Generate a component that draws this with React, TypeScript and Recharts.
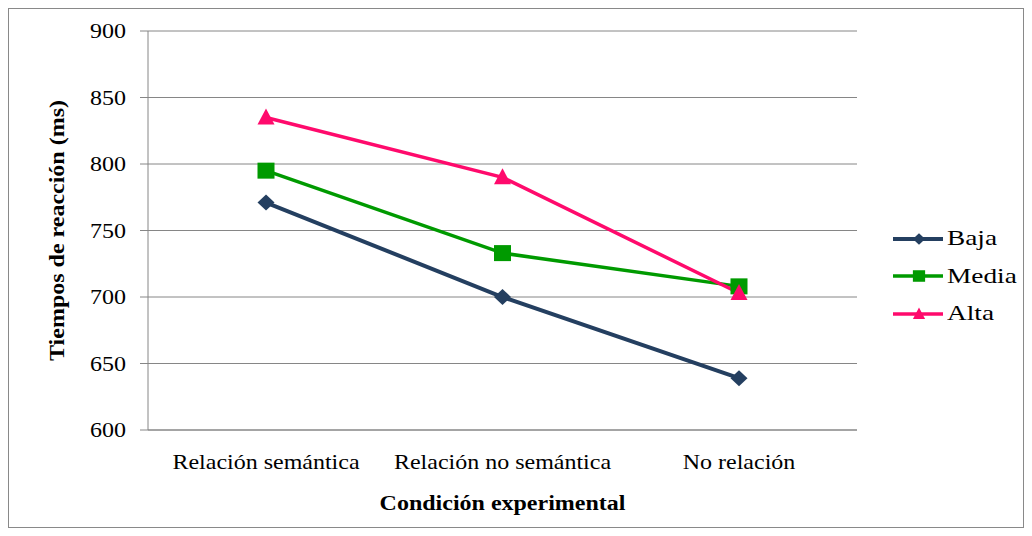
import { LineChart, Line, XAxis, YAxis, CartesianGrid, Legend } from 'recharts'

const categories = ['Relación semántica', 'Relación no semántica', 'No relación']
const baja = [771, 700, 639]
const media = [795, 733, 708]
const alta = [835, 790, 703]
const yTicks = [600, 650, 700, 750, 800, 850, 900]
const boundaryTicks = [0, 1, 2, 3]

const FONT = "'Liberation Serif', 'Times New Roman', serif"
const SX = 1.2
const GRID = '#868686'

type Shape = 'diamond' | 'square' | 'triangle'

const series: { key: string; name: string; color: string; shape: Shape; width: number }[] = [
  { key: 'baja', name: 'Baja', color: '#243f60', shape: 'diamond', width: 4 },
  { key: 'media', name: 'Media', color: '#009a00', shape: 'square', width: 3.5 },
  { key: 'alta', name: 'Alta', color: '#ff0a6c', shape: 'triangle', width: 3.5 },
]

const data = categories.map((cat, i) => ({
  cat,
  baja: baja[i],
  media: media[i],
  alta: alta[i],
}))

function Marker({ cx, cy, shape, color, k = 1 }: { cx: number; cy: number; shape: Shape; color: string; k?: number }) {
  if (shape === 'diamond') {
    return <polygon points={`${cx},${cy - 8 * k} ${cx + 8.5 * k},${cy} ${cx},${cy + 8 * k} ${cx - 8.5 * k},${cy}`} fill={color} />
  }
  if (shape === 'square') {
    return <rect x={cx - 8.5 * k} y={cy - 8 * k} width={17 * k} height={16 * k} fill={color} />
  }
  return <polygon points={`${cx},${cy - 9 * k} ${cx + 8.5 * k},${cy + 7 * k} ${cx - 8.5 * k},${cy + 7 * k}`} fill={color} />
}

function YTick({ x, y, payload }: any) {
  return (
    <g transform={`translate(${x},${y}) scale(${SX},1)`}>
      <text x={0} y={0} dy="0.35em" textAnchor="end" fontFamily={FONT} fontSize={20} fill="#000">
        {payload.value}
      </text>
    </g>
  )
}

function XTick({ x, y, payload }: any) {
  return (
    <g transform={`translate(${x},${y}) scale(${SX},1)`}>
      <text x={0} y={0} dy="0.35em" textAnchor="middle" fontFamily={FONT} fontSize={20} fill="#000">
        {payload.value}
      </text>
    </g>
  )
}

function YTitle({ viewBox }: any) {
  const cx = viewBox.x + 48
  const cy = viewBox.y + viewBox.height / 2
  return (
    <g transform={`translate(${cx},${cy}) rotate(-90) scale(${SX},1)`}>
      <text x={0} y={0} dy="0.35em" textAnchor="middle" fontFamily={FONT} fontSize={20} fontWeight="bold" fill="#000">
        Tiempos de reacción (ms)
      </text>
    </g>
  )
}

function XTitle({ viewBox }: any) {
  const cx = viewBox.x + viewBox.width / 2
  const cy = viewBox.y + 73
  return (
    <g transform={`translate(${cx},${cy}) scale(${SX},1)`}>
      <text x={0} y={0} dy="0.35em" textAnchor="middle" fontFamily={FONT} fontSize={20} fontWeight="bold" fill="#000">
        Condición experimental
      </text>
    </g>
  )
}

function LegendContent() {
  return (
    <div style={{ display: 'flex', flexDirection: 'column' }}>
      {series.map(s => (
        <div key={s.key} style={{ display: 'flex', alignItems: 'center', height: 37.5 }}>
          <svg width={52} height={20} style={{ display: 'block' }}>
            <line x1={1} y1={10} x2={51} y2={10} stroke={s.color} strokeWidth={s.width} />
            <Marker cx={27} cy={10} shape={s.shape} color={s.color} k={0.72} />
          </svg>
          <span style={{
            fontFamily: FONT, fontSize: 21, color: '#000', marginLeft: 3,
            display: 'inline-block', transform: 'scaleX(1.3)', transformOrigin: 'left center',
          }}>{s.name}</span>
        </div>
      ))}
    </div>
  )
}

export default function App() {
  return (
    <div style={{ width: 1014, height: 518, border: '1px solid #898989', background: '#fff' }}>
      <LineChart width={1014} height={518} data={data} margin={{ top: 22, right: 166, bottom: 0, left: 0 }}>
        <XAxis
          xAxisId="b"
          type="number"
          domain={[0, 3]}
          ticks={boundaryTicks}
          tick={false}
          tickSize={6}
          tickLine={{ stroke: GRID }}
          axisLine={false}
          height={0}
          allowDataOverflow
        />
        <XAxis
          xAxisId="main"
          dataKey="cat"
          height={97}
          padding={{ left: 118, right: 118 }}
          tickLine={false}
          tickSize={0}
          tickMargin={32}
          axisLine={{ stroke: GRID }}
          tick={<XTick />}
          interval={0}
          label={{ content: <XTitle /> }}
        />
        <YAxis
          width={139}
          domain={[600, 900]}
          ticks={yTicks}
          tickSize={8}
          tickMargin={14}
          tickLine={{ stroke: GRID }}
          axisLine={{ stroke: GRID }}
          tick={<YTick />}
          interval={0}
          label={{ content: <YTitle /> }}
        />
        <CartesianGrid xAxisId="main" vertical={false} stroke={GRID} />
        {series.map(s => (
          <Line
            key={s.key}
            xAxisId="main"
            type="linear"
            dataKey={s.key}
            name={s.name}
            stroke={s.color}
            strokeWidth={s.width}
            isAnimationActive={false}
            dot={(p: any) => <Marker key={`${s.key}-${p.index}`} cx={p.cx} cy={p.cy} shape={s.shape} color={s.color} />}
            activeDot={false}
          />
        ))}
        <Legend
          layout="vertical"
          align="center"
          verticalAlign="middle"
          content={<LegendContent />}
          wrapperStyle={{ left: 883, top: 211, width: 130 }}
        />
      </LineChart>
    </div>
  )
}
